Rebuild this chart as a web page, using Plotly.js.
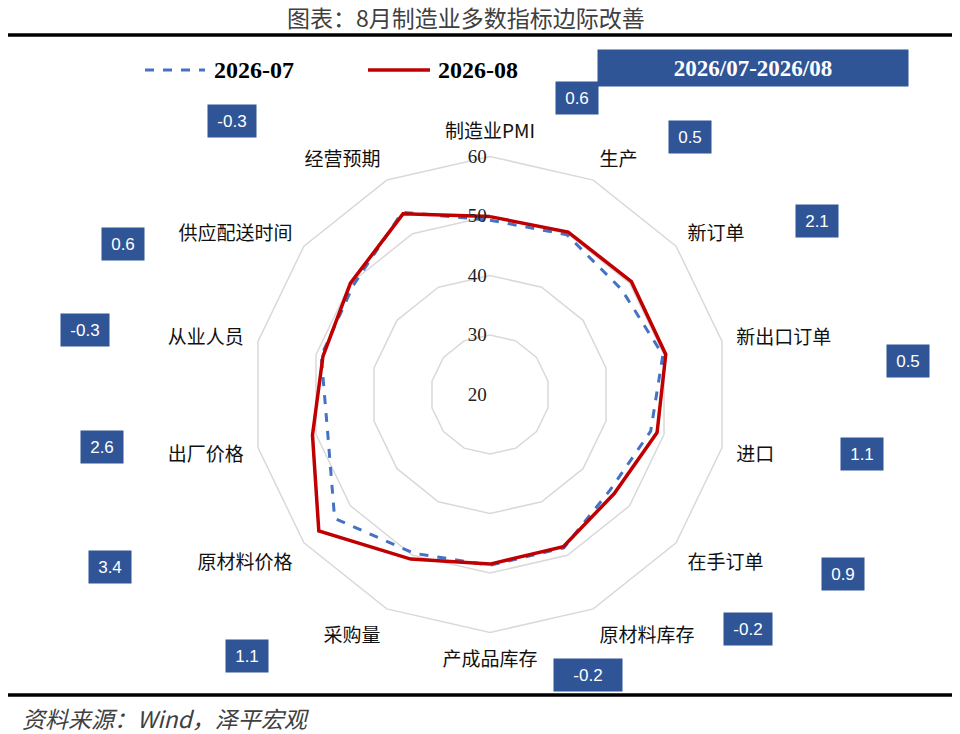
<!DOCTYPE html>
<html>
<head>
<meta charset="utf-8">
<script src="https://cdn.plot.ly/plotly-3.0.1.min.js"></script>
<style>
  html, body { margin: 0; padding: 0; background: #fff; }
  #plot { width: 960px; height: 734px; }
</style>
</head>
<body>
<div id="plot"></div>
<script>
// categories clockwise from the top
const categories = ['制造业PMI', '生产', '新订单', '新出口订单', '进口', '在手订单', '原材料库存',
    '产成品库存', '采购量', '原材料价格', '出厂价格', '从业人员', '供应配送时间', '经营预期'];
const jul = [49.3, 49.8, 48.3, 49.8, 47.7, 45.8, 48.6, 48.7, 49.6, 53.4, 48.0, 49.1, 49.4, 54.0];
const aug = [49.9, 50.3, 50.4, 50.3, 48.8, 46.7, 48.4, 48.5, 50.7, 56.8, 50.6, 48.8, 50.0, 53.7];
const diffLabels = ['0.6', '0.5', '2.1', '0.5', '1.1', '0.9', '-0.2', '-0.2', '1.1', '3.4', '2.6', '-0.3', '0.6', '-0.3'];
const radialTicks = [20, 30, 40, 50, 60];
const seriesNames = ['2026-07', '2026-08'];

// where each change box sits (pixels, same order as categories)
const boxPos = [
    [577, 98], [690, 137], [817, 221], [908, 361], [862, 454], [843, 574], [748, 629],
    [588, 675], [247, 656], [110, 567], [102, 447], [85, 330], [123, 244], [232, 121]
];

const W = 960, H = 734;
const px = x => x / W;
const py = y => 1 - y / H;

const closed = arr => arr.concat([arr[0]]);

const serif = 'Liberation Serif, Times New Roman, serif';
const cjk = 'Noto Sans CJK SC, sans-serif';
const boxBlue = '#2F5597';
const colors = ['#4472C4', '#C00000'];

const traces = [
    {
        type: 'scatterpolar',
        mode: 'lines',
        name: seriesNames[0],
        r: closed(jul),
        theta: closed(categories),
        line: {color: colors[0], width: 3, dash: 'dash'}
    },
    {
        type: 'scatterpolar',
        mode: 'lines',
        name: seriesNames[1],
        r: closed(aug),
        theta: closed(categories),
        line: {color: colors[1], width: 3.5}
    }
];

function note(text, x, y, font, extra) {
    return Object.assign({
        text: text,
        x: px(x), y: py(y),
        xref: 'paper', yref: 'paper',
        xanchor: 'center', yanchor: 'middle',
        showarrow: false,
        font: font
    }, extra || {});
}

// change boxes
const annotations = diffLabels.map((t, i) => {
    let w = t.startsWith('-') ? 44 : 38;
    if (i === 7) w = 64;
    return note(t, boxPos[i][0], boxPos[i][1],
        {family: 'Liberation Sans, Arial, sans-serif', size: 17, color: '#fff'},
        {width: w, height: 28, borderpad: 2, bgcolor: boxBlue});
});

annotations.push(
    note('<b>2026/07-2026/08</b>', 753, 68, {family: serif, size: 23, color: '#fff'},
        {width: 306, height: 32, borderpad: 2, bgcolor: boxBlue}),
    note('图表：8月制造业多数指标边际改善', 466, 17, {family: cjk, size: 23, color: '#404040'}),
    note('<i>资料来源：Wind，泽平宏观</i>', 20, 718, {family: cjk, size: 23, color: '#404040'},
        {xanchor: 'left'}),
    // legend text
    note('<b>' + seriesNames[0] + '</b>', 212, 70, {family: serif, size: 24, color: '#000'}, {xanchor: 'left'}),
    note('<b>' + seriesNames[1] + '</b>', 436, 70, {family: serif, size: 24, color: '#000'}, {xanchor: 'left'})
);

const layout = {
    width: W, height: H,
    margin: {l: 0, r: 0, t: 0, b: 0, autoexpand: false},
    paper_bgcolor: '#fff',
    showlegend: false,
    polar: {
        domain: {x: [px(490 - 238), px(490 + 238)], y: [py(394.5 + 238), py(394.5 - 238)]},
        gridshape: 'linear',
        bgcolor: 'rgba(0,0,0,0)',
        radialaxis: {
            range: [20, 60],
            tickvals: radialTicks,
            ticksuffix: '\u00a0\u00a0',
            angle: 90,
            tickangle: 90,
            side: 'counterclockwise',
            showline: false,
            ticks: '',
            gridcolor: '#D9D9D9',
            gridwidth: 1.5,
            tickfont: {family: serif, size: 19, color: '#222'}
        },
        angularaxis: {
            direction: 'clockwise',
            rotation: 90,
            showgrid: false,
            showline: true,
            linecolor: '#D9D9D9',
            linewidth: 1.5,
            ticks: 'outside',
            ticklen: 10,
            tickcolor: 'rgba(0,0,0,0)',
            tickfont: {family: cjk, size: 19, color: '#111'}
        }
    },
    shapes: [
        {type: 'line', xref: 'paper', yref: 'paper', x0: px(8), x1: px(952), y0: py(35), y1: py(35),
         line: {color: '#000', width: 3.5}},
        {type: 'line', xref: 'paper', yref: 'paper', x0: px(8), x1: px(952), y0: py(695), y1: py(695),
         line: {color: '#000', width: 3.5}},
        // legend samples
        {type: 'line', xref: 'paper', yref: 'paper', x0: px(145), x1: px(205), y0: py(70), y1: py(70),
         line: {color: colors[0], width: 3, dash: 'dash'}},
        {type: 'line', xref: 'paper', yref: 'paper', x0: px(368), x1: px(430), y0: py(70), y1: py(70),
         line: {color: colors[1], width: 3.5}}
    ],
    annotations: annotations
};

Plotly.newPlot('plot', traces, layout, {displayModeBar: false, staticPlot: true});
</script>
</body>
</html>
